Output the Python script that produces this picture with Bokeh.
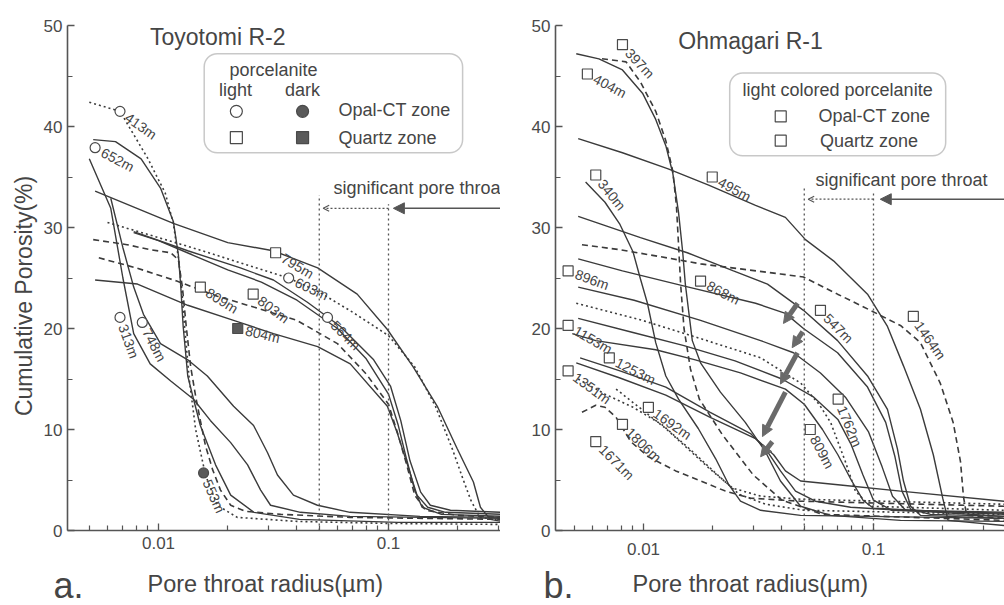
import math
from bokeh.plotting import figure
from bokeh.layouts import row, column
from bokeh.models import (Range1d, FixedTicker, ColumnDataSource, BoxAnnotation,
                          Arrow, NormalHead, OpenHead)
from bokeh.core.properties import value
from bokeh.embed import file_html
from bokeh.resources import INLINE

FONT = "Liberation Sans"
INK = "#3b3b3b"
TEXT = "#454545"
DASH = {"solid": "solid", "dashed": "6 4", "dotted": "2 3"}

# ---------------- Toyotomi R-2 : radius (um) / cumulative porosity (%) ----------------
t413_r = [0.0050, 0.0068, 0.0090, 0.0107, 0.0116, 0.0122, 0.0126, 0.0130, 0.0136, 0.0145, 0.0160, 0.0180, 0.0220, 0.040, 0.10, 0.31]
t413_p = [42.4, 41.5, 36.8, 33.4, 30.4, 27.0, 24.0, 20.0, 15.0, 10.0, 5.5, 2.5, 1.3, 0.9, 0.7, 0.6]
t652_r = [0.0052, 0.0065, 0.0084, 0.0102, 0.0116, 0.0122, 0.0125, 0.0128, 0.0134, 0.0142, 0.0152, 0.0177, 0.0206, 0.026, 0.041, 0.11, 0.31]
t652_p = [38.7, 38.5, 36.8, 33.9, 30.6, 27.3, 24.1, 20.2, 15.3, 13.0, 10.4, 6.5, 3.5, 1.8, 1.1, 0.8, 0.8]
t313_r = [0.0050, 0.0062, 0.0070, 0.0078, 0.0092, 0.0113, 0.0142, 0.0168, 0.0206, 0.0244, 0.0278, 0.0307, 0.0414, 0.068, 0.31]
t313_p = [36.8, 31.9, 25.0, 19.5, 16.5, 14.8, 13.0, 10.9, 8.7, 6.5, 4.0, 2.5, 1.8, 1.4, 1.2]
t748_r = [0.0062, 0.0070, 0.0078, 0.0086, 0.0102, 0.0134, 0.0163, 0.0212, 0.0259, 0.0298, 0.0329, 0.0386, 0.0491, 0.068, 0.137, 0.31]
t748_p = [32.9, 28.0, 24.1, 21.4, 18.5, 16.9, 15.3, 12.3, 10.4, 7.7, 5.5, 3.5, 2.5, 1.8, 1.4, 1.3]
t553_r = [0.0052, 0.0073, 0.0092, 0.0113, 0.0122, 0.0127, 0.0132, 0.0138, 0.0145, 0.0152, 0.0160, 0.0172, 0.0186, 0.0206, 0.0239, 0.034, 0.068, 0.31]
t553_p = [28.8, 28.3, 27.8, 27.5, 26.8, 24.1, 20.2, 16.2, 13.3, 10.9, 8.4, 6.0, 4.0, 2.5, 1.9, 1.6, 1.3, 1.1]
t795_r = [0.0053, 0.0116, 0.020, 0.0315, 0.0492, 0.0731, 0.0989, 0.128, 0.163, 0.199, 0.234, 0.251, 0.277, 0.31]
t795_p = [33.6, 30.4, 28.5, 27.7, 26.0, 23.4, 19.9, 16.2, 12.3, 8.1, 4.8, 2.3, 1.1, 0.9]
t603_r = [0.0060, 0.0100, 0.0150, 0.0250, 0.0368, 0.050, 0.070, 0.100, 0.130, 0.160, 0.190, 0.210, 0.228, 0.250, 0.31]
t603_p = [30.5, 29.0, 27.8, 26.2, 25.0, 23.6, 21.6, 19.3, 16.2, 12.3, 8.0, 5.2, 3.0, 1.3, 1.0]
t803_r = [0.0078, 0.010, 0.014, 0.020, 0.028, 0.040, 0.060, 0.080, 0.100, 0.110, 0.120, 0.130, 0.140, 0.170, 0.31]
t803_p = [29.5, 28.7, 27.3, 25.8, 24.6, 22.8, 20.0, 17.0, 13.5, 10.5, 7.0, 4.0, 2.3, 1.6, 1.4]
t564_r = [0.0078, 0.0134, 0.0227, 0.0316, 0.0444, 0.0618, 0.0862, 0.102, 0.113, 0.124, 0.138, 0.152, 0.186, 0.31]
t564_p = [29.6, 27.7, 26.0, 24.8, 22.6, 20.2, 16.9, 14.3, 10.9, 6.9, 3.8, 2.5, 2.0, 1.8]
t809_r = [0.0055, 0.008, 0.012, 0.018, 0.027, 0.040, 0.060, 0.080, 0.100, 0.110, 0.120, 0.130, 0.145, 0.200, 0.31]
t809_p = [27.0, 26.0, 24.7, 23.2, 22.0, 20.8, 18.5, 15.5, 12.5, 9.5, 6.5, 3.5, 2.0, 1.5, 1.3]
t804_r = [0.0053, 0.0081, 0.0134, 0.0212, 0.0316, 0.0492, 0.0682, 0.0989, 0.109, 0.121, 0.133, 0.148, 0.177, 0.31]
t804_p = [24.8, 24.4, 22.3, 20.8, 19.5, 18.2, 16.5, 12.3, 9.7, 6.5, 3.5, 2.3, 1.8, 1.6]

toyo_names = ["413m", "652m", "313m", "748m", "553m", "795m", "603m", "803m", "809m", "564m", "804m"]
toyo_style = ["dotted", "solid", "solid", "solid", "dashed", "solid", "dotted", "solid", "dashed", "solid", "solid"]
toyo_mark = ["circle", "circle", "circle", "circle", "circle", "square", "circle", "square", "square", "circle", "square"]
toyo_dark = [False, False, False, False, True, False, False, False, False, False, True]
toyo_lab_r = [0.0068, 0.0053, 0.0068, 0.0085, 0.0157, 0.0323, 0.0368, 0.0258, 0.0152, 0.0543, 0.0221]
toyo_lab_p = [41.5, 37.9, 21.1, 20.6, 5.7, 27.5, 25.0, 23.4, 24.1, 21.1, 20.0]
toyo_lab_deg = [-35, -28, -70, -62, -66, -31, -25, -37, -32, -45, -13]
toyo_r = [t413_r, t652_r, t313_r, t748_r, t553_r, t795_r, t603_r, t803_r, t809_r, t564_r, t804_r]
toyo_p = [t413_p, t652_p, t313_p, t748_p, t553_p, t795_p, t603_p, t803_p, t809_p, t564_p, t804_p]

# ---------------- Ohmagari R-1 ----------------
o397_r = [0.0066, 0.0084, 0.0097, 0.0113, 0.0125, 0.0134, 0.0139, 0.0142, 0.0145, 0.0150, 0.0160, 0.0175, 0.022, 0.030, 0.040, 0.060, 0.37]
o397_p = [46.7, 46.4, 44.4, 41.5, 38.6, 35.6, 32.2, 28.3, 24.4, 20.0, 16.0, 13.0, 9.5, 5.5, 3.0, 1.6, 1.0]
o404_r = [0.0051, 0.0064, 0.0081, 0.0099, 0.0113, 0.0125, 0.0134, 0.0142, 0.0148, 0.0152, 0.0157, 0.0163, 0.0177, 0.0216, 0.0277, 0.0339, 0.0394, 0.0482, 0.0651, 0.131, 0.37]
o404_p = [47.2, 46.7, 45.6, 43.3, 40.7, 38.1, 35.4, 31.5, 27.6, 24.4, 21.8, 18.8, 16.6, 13.7, 10.7, 7.8, 4.9, 2.4, 1.5, 1.0, 0.9]
o495_r = [0.0052, 0.0081, 0.0128, 0.0192, 0.0307, 0.0414, 0.0506, 0.0670, 0.0942, 0.115, 0.135, 0.160, 0.182, 0.200, 0.211, 0.37]
o495_p = [38.8, 37.4, 35.8, 34.2, 32.2, 31.0, 28.8, 26.7, 23.4, 20.2, 16.3, 12.0, 7.5, 3.2, 1.0, 0.5]
o340_r = [0.0056, 0.0068, 0.0079, 0.0090, 0.0097, 0.0104, 0.0113, 0.0125, 0.0142, 0.0173, 0.0206, 0.0234, 0.0264, 0.0323, 0.0482, 0.37]
o340_p = [34.5, 32.5, 30.3, 27.6, 24.9, 22.5, 18.6, 15.3, 13.0, 10.1, 7.1, 4.6, 2.9, 2.0, 1.5, 1.2]
o547_r = [0.0052, 0.0097, 0.0155, 0.0246, 0.0346, 0.0496, 0.0698, 0.0942, 0.115, 0.127, 0.135, 0.145, 0.160, 0.37]
o547_p = [31.1, 29.0, 27.5, 25.7, 24.4, 21.8, 18.8, 15.3, 12.0, 8.1, 4.9, 2.4, 1.5, 1.2]
o1464_r = [0.0054, 0.0079, 0.0119, 0.0177, 0.0264, 0.0394, 0.0496, 0.0698, 0.0969, 0.131, 0.160, 0.195, 0.222, 0.239, 0.246, 0.254, 0.37]
o1464_p = [28.3, 27.8, 27.1, 26.4, 25.9, 25.4, 25.1, 23.4, 21.8, 20.3, 18.6, 14.6, 10.7, 6.8, 3.4, 1.5, 1.2]
o868_r = [0.0052, 0.0081, 0.0157, 0.0307, 0.0414, 0.0496, 0.0698, 0.0942, 0.113, 0.124, 0.133, 0.145, 0.177, 0.37]
o868_p = [26.9, 25.7, 24.1, 22.5, 21.5, 20.0, 17.6, 14.2, 10.7, 7.3, 3.9, 2.1, 1.6, 1.4]
o896_r = [0.0052, 0.0091, 0.0177, 0.0323, 0.0449, 0.0588, 0.0755, 0.0950, 0.109, 0.121, 0.138, 0.37]
o896_p = [24.1, 22.8, 20.8, 18.8, 17.6, 15.6, 13.2, 9.8, 6.3, 3.4, 2.0, 1.4]
o1153_r = [0.0049, 0.0062, 0.0113, 0.0168, 0.0264, 0.0414, 0.050, 0.060, 0.070, 0.080, 0.090, 0.100, 0.37]
o1153_p = [19.5, 18.8, 17.9, 16.9, 15.6, 14.0, 12.5, 10.0, 7.5, 5.0, 3.0, 2.2, 1.6]
o1762_r = [0.0052, 0.0090, 0.0150, 0.0250, 0.0400, 0.0550, 0.0700, 0.0800, 0.0900, 0.100, 0.120, 0.37]
o1762_p = [21.0, 19.6, 18.3, 16.8, 15.0, 13.2, 11.0, 8.5, 5.5, 3.0, 2.0, 1.7]
o1253_r = [0.0053, 0.0079, 0.0125, 0.0195, 0.0292, 0.0339, 0.0394, 0.0458, 0.0559, 0.0795, 0.131, 0.37]
o1253_p = [17.1, 15.8, 14.2, 11.7, 9.6, 8.1, 5.9, 3.9, 2.9, 2.3, 2.0, 1.8]
o1351_r = [0.0051, 0.0079, 0.0125, 0.0195, 0.0307, 0.0368, 0.0414, 0.0482, 0.0718, 0.131, 0.37]
o1351_p = [16.6, 15.1, 13.4, 11.2, 9.1, 7.5, 5.9, 4.9, 4.5, 3.9, 2.9]
o809_r = [0.0051, 0.0099, 0.0177, 0.0323, 0.0482, 0.0580, 0.0651, 0.0755, 0.0834, 0.0969, 0.37]
o809_p = [22.5, 20.8, 19.0, 17.1, 14.6, 12.5, 10.7, 6.8, 3.9, 2.4, 2.0]
o1692_r = [0.0076, 0.0125, 0.0192, 0.0244, 0.0323, 0.0482, 0.37]
o1692_p = [14.0, 10.1, 6.2, 4.2, 3.4, 3.1, 2.6]
o1806_r = [0.0054, 0.0062, 0.0068, 0.0076, 0.0088, 0.0105, 0.0138, 0.0177, 0.0227, 0.0292, 0.0482, 0.37]
o1806_p = [11.7, 12.4, 12.2, 11.2, 8.8, 7.3, 5.9, 4.9, 3.9, 3.2, 2.9, 2.4]
o1671_r = [0.0052, 0.0068, 0.0090, 0.0120, 0.0160, 0.0210, 0.0260, 0.0340, 0.0500, 0.37]
o1671_p = [15.0, 13.5, 12.2, 10.5, 8.0, 5.5, 3.6, 2.6, 2.0, 1.6]

ohma_names = ["397m", "404m", "495m", "340m", "896m", "868m", "1153m", "1253m", "1351m",
              "1692m", "1806m", "1671m", "547m", "1464m", "1762m", "809m"]
ohma_style = ["dashed", "solid", "solid", "solid", "solid", "solid", "solid", "solid", "solid",
              "dotted", "dashed", "dotted", "solid", "dashed", "solid", "dotted"]
ohma_lab_r = [0.0081, 0.0057, 0.0199, 0.0062, 0.0047, 0.0177, 0.0047, 0.0071, 0.0047,
              0.0105, 0.0081, 0.0062, 0.0588, 0.149, 0.0702, 0.0531]
ohma_lab_p = [48.1, 45.2, 35.0, 35.2, 25.7, 24.7, 20.3, 17.1, 15.8, 12.2, 10.5, 8.8, 21.8, 21.2, 13.0, 10.0]
ohma_lab_deg = [-47, -28, -29, -51, -20, -27, -30, -27, -36, -35, -44, -45, -45, -55, -67, -62]
ohma_r = [o397_r, o404_r, o495_r, o340_r, o896_r, o868_r, o1153_r, o1253_r, o1351_r,
          o1692_r, o1806_r, o1671_r, o547_r, o1464_r, o1762_r, o809_r]
ohma_p = [o397_p, o404_p, o495_p, o340_p, o896_p, o868_p, o1153_p, o1253_p, o1351_p,
          o1692_p, o1806_p, o1671_p, o547_p, o1464_p, o1762_p, o809_p]

# shift arrows between Ohmagari curves (start r, start p, end r, end p)
shift_r0 = [0.0468, 0.0492, 0.0467, 0.0414, 0.0363]
shift_p0 = [22.5, 19.7, 17.6, 13.7, 8.8]
shift_r1 = [0.0406, 0.0443, 0.0394, 0.0329, 0.0323]
shift_p1 = [20.5, 18.1, 14.5, 9.3, 7.3]

# significant pore-throat window (um)
throat_lo, throat_hi = 0.05, 0.1

x_major = [0.01, 0.1]
x_minor = [0.004, 0.005, 0.006, 0.007, 0.008, 0.009, 0.02, 0.03, 0.04, 0.05,
           0.06, 0.07, 0.08, 0.09, 0.2, 0.3]
y_major = [0, 10, 20, 30, 40, 50]
y_minor = [5, 15, 25, 35, 45]

X_TITLE = "Pore throat radius(\u00b5m)"
Y_TITLE = "Cumulative Porosity(%)"
PANEL_H = 562
SIDE_W = 40


def make_panel(width, xr, left, top, bottom, lab_standoff):
    p = figure(width=width, height=PANEL_H, x_axis_type="log",
               x_range=Range1d(*xr), y_range=Range1d(0, 50),
               output_backend="svg", toolbar_location=None,
               min_border_left=left, min_border_right=0,
               min_border_top=top, min_border_bottom=bottom)
    p.outline_line_color = None
    p.grid.visible = False
    p.background_fill_color = "white"
    p.border_fill_color = "white"
    for ax in (p.xaxis[0], p.yaxis[0]):
        ax.axis_line_color = "#555555"
        ax.axis_line_width = 1.6
        ax.major_tick_line_color = "#555555"
        ax.minor_tick_line_color = "#555555"
        ax.major_tick_line_width = 1.3
        ax.minor_tick_line_width = 1.2
        ax.major_tick_in = 7
        ax.major_tick_out = 0
        ax.minor_tick_in = 5
        ax.minor_tick_out = 0
        ax.major_label_text_font = FONT
        ax.major_label_text_font_size = "17px"
        ax.major_label_text_color = "#4a4a4a"
    p.xaxis[0].ticker = FixedTicker(ticks=x_major, minor_ticks=x_minor)
    p.xaxis[0].major_label_overrides = {0.01: "0.01", 0.1: "0.1"}
    p.yaxis[0].ticker = FixedTicker(ticks=y_major, minor_ticks=y_minor)
    p.xaxis[0].major_label_standoff = lab_standoff
    p.yaxis[0].major_label_standoff = 5
    return p


def draw_curves(p, rs, ps, styles):
    for r, v, s in zip(rs, ps, styles):
        p.line(r, v, line_color=INK, line_width=1.4 if s == "solid" else 1.6,
               line_dash=DASH[s])


def draw_labels(p, names, lr, lp, deg, marks, dark):
    ang = [math.radians(d) for d in deg]
    src = ColumnDataSource(dict(
        x=lr, y=lp, text=names, angle=ang,
        xo=[8 * math.cos(a) for a in ang], yo=[-8 * math.sin(a) for a in ang],
        marker=marks, fill=["#5a5a5a" if d else "white" for d in dark]))
    p.scatter(x="x", y="y", marker="marker", size=10, fill_color="fill",
              line_color="#4a4a4a", line_width=1.2, source=src)
    p.text(x="x", y="y", text="text", angle="angle", x_offset="xo", y_offset="yo",
           text_font=value(FONT), text_font_size="14px", text_color=TEXT,
           text_baseline="middle", text_align="left", source=src)


def draw_throat(p, top_lo, top_hi, ann_y, text_r, text_y, head_r):
    p.segment(x0=[throat_lo, throat_hi], y0=[0, 0], x1=[throat_lo, throat_hi],
              y1=[top_lo, top_hi], line_color="#555555", line_width=1.3, line_dash="2 3")
    p.text(x=[text_r], y=[text_y], text=["significant pore throat"],
           text_font=value(FONT), text_font_size="18px", text_color=TEXT,
           text_baseline="middle", text_align="left")
    p.add_layout(Arrow(end=NormalHead(size=11, fill_color="#555555", line_color="#555555"),
                       x_start=2.0, y_start=ann_y, x_end=head_r, y_end=ann_y,
                       line_color="#555555", line_width=1.5))
    p.add_layout(Arrow(end=OpenHead(size=6, line_color="#555555", line_width=1.2),
                       x_start=throat_hi, y_start=ann_y, x_end=throat_lo * 1.04, y_end=ann_y,
                       line_color="#555555", line_width=1.2, line_dash="2 2"))


def txt(p, x, y, s, size, align="left", angle=0.0):
    p.text(x=[x], y=[y], text=[s], angle=angle, text_font=value(FONT), text_font_size=size,
           text_color=TEXT, text_baseline="middle", text_align=align)


def blank(width, height):
    f = figure(width=width, height=height, x_range=Range1d(0, width), y_range=Range1d(0, height),
               output_backend="svg", toolbar_location=None, min_border=0,
               x_axis_location=None, y_axis_location=None)
    f.outline_line_color = None
    f.grid.visible = False
    return f


# ---------------- panel a ----------------
pa = make_panel(500 - SIDE_W, (0.00402, 0.3069), 67 - SIDE_W, 25, PANEL_H - 536, 6)
draw_curves(pa, toyo_r, toyo_p, toyo_style)
draw_labels(pa, toyo_names, toyo_lab_r, toyo_lab_p, toyo_lab_deg, toyo_mark, toyo_dark)
draw_throat(pa, 33.2, 32.3, 31.9, 0.0576, 33.9, 0.105)
txt(pa, 0.0181, 48.9, "Toyotomi R-2", "23px", "center")

pa.add_layout(BoxAnnotation(left=0.0158, right=0.210, top=47.2, bottom=37.4,
                            fill_alpha=0, line_color="#4a4a4a", line_width=1.5,
                            border_radius=13))
txt(pa, 0.0316, 45.6, "porcelanite", "18px", "center")
txt(pa, 0.0216, 43.6, "light", "18px", "center")
txt(pa, 0.0423, 43.6, "dark", "18px", "center")
txt(pa, 0.0606, 41.6, "Opal-CT zone", "18px")
txt(pa, 0.0606, 38.9, "Quartz zone", "18px")
pa.scatter(x=[0.0218, 0.0423, 0.0218, 0.0423], y=[41.5, 41.5, 38.9, 38.9],
           marker=["circle", "circle", "square", "square"], size=12,
           fill_color=["white", "#5a5a5a", "white", "#5a5a5a"],
           line_color="#4a4a4a", line_width=1.2)

# y-axis title in its own narrow strip
side = blank(SIDE_W, PANEL_H)
txt(side, 23, PANEL_H - 301, Y_TITLE, "23px", "center", math.pi / 2)

# ---------------- panel b ----------------
pb = make_panel(504, (0.004143, 0.3712), 55, 18, PANEL_H - 530, 12)
draw_curves(pb, ohma_r, ohma_p, ohma_style)
draw_labels(pb, ohma_names, ohma_lab_r, ohma_lab_p, ohma_lab_deg,
            ["square"] * len(ohma_names), [False] * len(ohma_names))
draw_throat(pb, 34.0, 33.4, 32.8, 0.0559, 34.7, 0.107)
txt(pb, 0.0292, 48.5, "Ohmagari R-1", "23px", "center")
for r0, p0, r1, p1 in zip(shift_r0, shift_p0, shift_r1, shift_p1):
    pb.add_layout(Arrow(end=NormalHead(size=11, fill_color="#6a6a6a", line_color="#6a6a6a"),
                        x_start=r0, y_start=p0, x_end=r1, y_end=p1,
                        line_color="#6a6a6a", line_width=5))

pb.add_layout(BoxAnnotation(left=0.0237, right=0.206, top=45.3, bottom=37.1,
                            fill_alpha=0, line_color="#4a4a4a", line_width=1.5,
                            border_radius=13))
txt(pb, 0.0698, 43.6, "light colored porcelanite", "18px", "center")
txt(pb, 0.0576, 41.0, "Opal-CT zone", "18px")
txt(pb, 0.0585, 38.6, "Quartz zone", "18px")
pb.scatter(x=[0.0395, 0.0395], y=[41.0, 38.6], marker="square", size=11,
           fill_color="white", line_color="#4a4a4a", line_width=1.2)

# ---------------- caption strip: panel letters and x-axis titles ----------------
STRIP_H = 605 - PANEL_H
strip = blank(1004, STRIP_H)
txt(strip, 53, 20.5, "a.", "36px")
txt(strip, 543, 20.5, "b.", "36px")
txt(strip, 147, 22, X_TITLE, "23.5px")
txt(strip, 632, 22, X_TITLE, "23.5px")

layout = column(row(side, pa, pb, spacing=0), strip, spacing=0)
open("out.html", "w").write(file_html(layout, INLINE))
